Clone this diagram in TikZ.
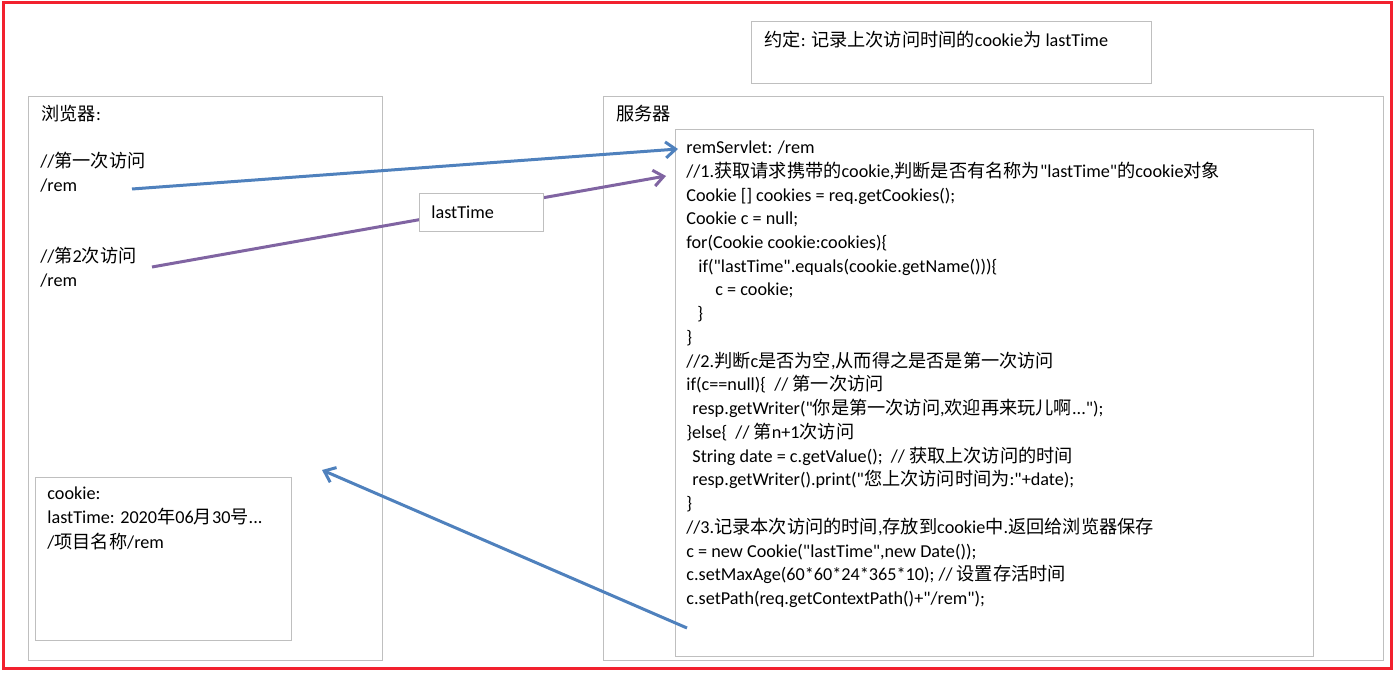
\documentclass[tikz,border=0pt]{standalone}
\usepackage{fontspec}
\setmainfont{Carlito}[Ligatures=TeXOff]
\newfontfamily\cjk{Noto Sans CJK SC}
\newcommand{\zh}[1]{{\cjk #1}}
\usetikzlibrary{arrows.meta,positioning}
\definecolor{boxgrey}{HTML}{BFBFBF}
\definecolor{arrowblue}{HTML}{4F81BD}
\definecolor{arrowpurple}{HTML}{8064A2}
\definecolor{framered}{HTML}{F2212E}
\tikzset{
  greybox/.style={draw=boxgrey, line width=0.5pt, fill=white, inner sep=0pt},
  plaintext/.style={inner sep=0pt, anchor=west, font=\fontsize{9.1}{12}\selectfont},
  blocktext/.style={inner sep=0pt, anchor=north west, align=left, font=\fontsize{9.1}{12}\selectfont},
  codetext/.style={inner sep=0pt, anchor=north west, align=left, font=\fontsize{9.1}{11.87}\selectfont},
  bluearrow/.style={draw=arrowblue, line width=1.5pt, -{Straight Barb[length=5pt,width=8pt]}},
  purplearrow/.style={draw=arrowpurple, line width=1.5pt, -{Straight Barb[length=5pt,width=8pt]}}
}

\begin{document}
\begin{tikzpicture}[x=0.5pt, y=-0.5pt]
 \useasboundingbox (0,0) rectangle (1396,673);
 \draw[framered, line width=1.5pt] (3,3) rectangle (1391,668);

 % convention note
 \node[greybox, minimum width=200pt, minimum height=31pt] (note) at (951,53) {};
 \node[plaintext] (notetext) at (764,40) {\zh{约定}: \zh{记录上次访问时间的}cookie\zh{为} lastTime};

 % browser side
 \node[greybox, minimum width=177pt, minimum height=281.5pt] (browser) at (205,378.5) {};
 \node[plaintext] (browsertitle) at (41,114) {\zh{浏览器}:};
 \node[blocktext] (visit1) at (40,151.5) {//\zh{第一次访问}\\/rem};
 \node[blocktext] (visit2) at (40,246.5) {//\zh{第}2\zh{次访问}\\/rem};
 \node[greybox, minimum width=128pt, minimum height=81.5pt] (cookiebox) at (163,558.5) {};
 \node[blocktext, font=\fontsize{9.1}{12.3}\selectfont] (cookietext) at (47,486) {cookie:\\lastTime: 2020\zh{年}06\zh{月}30\zh{号}...\\/\zh{项目名称}/rem};

 % server side
 \node[greybox, minimum width=390pt, minimum height=281.5pt] (server) at (993,378.5) {};
 \node[plaintext] (servertitle) at (616,114) {\zh{服务器}};
 \node[greybox, minimum width=319pt, minimum height=263pt] (code) at (994,393) {};
 \node[codetext] (codetext) at (686,140.5) {remServlet: /rem\\
//1.\zh{获取请求携带的}cookie,\zh{判断是否有名称为}"lastTime"\zh{的}cookie\zh{对象}\\
Cookie [] cookies = req.getCookies();\\
Cookie c = null;\\
for(Cookie cookie:cookies)\{\\
\hspace*{6pt}if("lastTime".equals(cookie.getName()))\{\\
\hspace*{14.5pt}c = cookie;\\
\hspace*{5.5pt}\}\\
\}\\
//2.\zh{判断}c\zh{是否为空},\zh{从而得之是否是第一次访问}\\
if(c==null)\{ \ // \zh{第一次访问}\\
\hspace*{3pt}resp.getWriter("\zh{你是第一次访问},\zh{欢迎再来玩儿啊}...");\\
\}else\{ \ // \zh{第}n+1\zh{次访问}\\
\hspace*{3pt}String date = c.getValue(); \ // \zh{获取上次访问的时间}\\
\hspace*{3pt}resp.getWriter().print("\zh{您上次访问时间为}:"+date);\\
\}\\
//3.\zh{记录本次访问的时间},\zh{存放到}cookie\zh{中}.\zh{返回给浏览器保存}\\
c = new Cookie("lastTime",new Date());\\
c.setMaxAge(60*60*24*365*10); // \zh{设置存活时间}\\
c.setPath(req.getContextPath()+"/rem");};

 % requests and response
 \coordinate (req1) at (132,189);
 \coordinate (req1end) at (678,149);
 \coordinate (req2) at (152,267);
 \coordinate (req2end) at (666,176);
 \coordinate (resp) at (687,628);
 \coordinate (respend) at (322,470);
 \draw[bluearrow] (req1) -- (req1end);
 \draw[purplearrow] (req2) -- (req2end);
 \draw[bluearrow] (resp) -- (respend);

 \node[greybox, minimum width=62pt, minimum height=19pt] (lasttime) at (481,213) {};
 \node[plaintext] (lasttimetext) at (431,212) {lastTime};

\end{tikzpicture}
\end{document}
